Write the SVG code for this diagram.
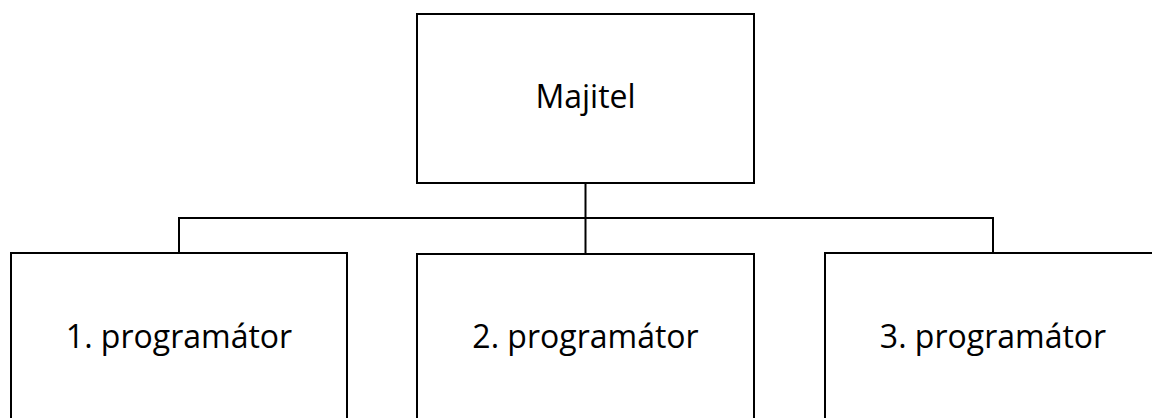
<svg xmlns="http://www.w3.org/2000/svg" width="1152" height="418" viewBox="0 0 1152 418">
<style>
.box{fill:#fff;stroke:#000;stroke-width:2}
.lbl{font-family:"Open Sans","Liberation Sans",sans-serif;font-size:32px;fill:#000;text-anchor:middle}
.conn{fill:none;stroke:#000;stroke-width:2}
</style>
<rect width="1152" height="418" fill="#fff"/>
<g id="connectors">
<path class="conn" d="M585.5 183 V218 M179 253 V218 H993 V253 M585.5 218 V254"/>
</g>
<g id="majitel">
<rect class="box" x="417" y="14" width="337" height="169"/>
<text class="lbl" x="585.5" y="108">Majitel</text>
</g>
<g id="programator1">
<rect class="box" x="11" y="253" width="336" height="180"/>
<text class="lbl" x="179" y="348">1. programátor</text>
</g>
<g id="programator2">
<rect class="box" x="417" y="254" width="337" height="180"/>
<text class="lbl" x="585.5" y="348">2. programátor</text>
</g>
<g id="programator3">
<rect class="box" x="825" y="253" width="337" height="180"/>
<text class="lbl" x="993" y="348">3. programátor</text>
</g>
</svg>
